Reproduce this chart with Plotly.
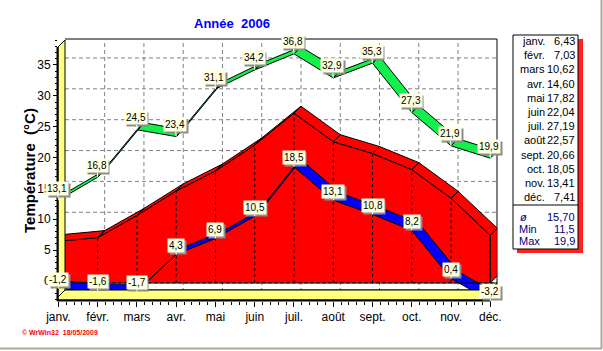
import plotly.graph_objects as go

# ---------------- data ----------------
months = ["janv.", "févr.", "mars", "avr.", "mai", "juin",
          "juil.", "août", "sept.", "oct.", "nov.", "déc."]
mean_temp = [6.43, 7.03, 10.62, 14.60, 17.82, 22.04, 27.19, 22.57, 20.66, 18.05, 13.41, 7.41]
max_temp = [13.1, 16.8, 24.5, 23.4, 31.1, 34.2, 36.8, 32.9, 35.3, 27.3, 21.9, 19.9]
min_temp = [-1.2, -1.6, -1.7, 4.3, 6.9, 10.5, 18.5, 13.1, 10.8, 8.2, 0.4, -3.2]
table_values = ["6,43", "7,03", "10,62", "14,60", "17,82", "22,04",
                "27,19", "22,57", "20,66", "18,05", "13,41", "7,41"]
stats_labels = ["ø", "Min", "Max"]
stats_values = ["15,70", "11,5", "19,9"]
y_ticks = [0, 5, 10, 15, 20, 25, 30, 35]

# ---------------- geometry ----------------
W, H = 603, 351
L, T, PW, PH = 58, 39, 439, 262
XR = [-0.01, 11.17]
YR = [-3.24, 39.21]
XS = PW / (XR[1] - XR[0])
YS = PH / (YR[1] - YR[0])
DX = 7 / XS          # 3D depth offset (right)
DY = 7 / YS          # 3D depth offset (up)
BASE = -0.3

def PX(p):
    return (p - L) / PW

def PY(p):
    return (T + PH - p) / PH

FONT = "Liberation Sans, Arial, sans-serif"
GREEN = "#12f04a"
RED = "#ff0000"
BLUE = "#0000ff"

xi = list(range(len(months)))
n = len(months)

def ribbon(vals):
    xs, ys = [], []
    for i in range(len(vals) - 1):
        xs += [i, i + 1, i + 1 + DX, i + DX, i, None]
        ys += [vals[i], vals[i + 1], vals[i + 1] + DY, vals[i] + DY, vals[i], None]
    return xs, ys

fig = go.Figure()

# red area: front face
fig.add_trace(go.Scatter(x=[0] + xi + [n - 1], y=[BASE] + mean_temp + [BASE],
                         mode="lines", fill="toself", fillcolor=RED,
                         line=dict(color="black", width=1), hoverinfo="skip"))
# red right side face
fig.add_trace(go.Scatter(x=[n - 1, n - 1, n - 1 + DX, n - 1 + DX, n - 1],
                         y=[BASE, mean_temp[-1], mean_temp[-1] + DY, BASE + DY, BASE],
                         mode="lines", fill="toself", fillcolor=RED,
                         line=dict(color="black", width=1), hoverinfo="skip"))
# red top face
rx, ry = ribbon(mean_temp)
fig.add_trace(go.Scatter(x=rx, y=ry, mode="lines", fill="toself", fillcolor=RED,
                         line=dict(color="black", width=1), hoverinfo="skip"))
# dotted verticals
dx_, dy_ = [], []
for i in range(1, n):
    dx_ += [i, i, None]
    dy_ += [BASE, mean_temp[i], None]
fig.add_trace(go.Scatter(x=dx_, y=dy_, mode="lines",
                         line=dict(color="black", width=1, dash="dot"), hoverinfo="skip"))
fig.add_trace(go.Scatter(x=[0, n - 1 + DX], y=[BASE, BASE], mode="lines",
                         line=dict(color="black", width=1, dash="dot"), hoverinfo="skip"))

# green ribbon
gx, gy = ribbon(max_temp)
fig.add_trace(go.Scatter(x=gx, y=gy, mode="lines", fill="toself", fillcolor=GREEN,
                         line=dict(color="black", width=1), hoverinfo="skip"))
# blue ribbon
bx, by = ribbon(min_temp)
fig.add_trace(go.Scatter(x=bx, y=by, mode="lines", fill="toself", fillcolor=BLUE,
                         line=dict(color="black", width=1), hoverinfo="skip"))

shapes = []
# back plane border
shapes.append(dict(type="line", xref="paper", yref="paper", x0=PX(65), x1=PX(497),
                   y0=PY(39), y1=PY(39), line=dict(color="black", width=1), layer="below"))
shapes.append(dict(type="line", xref="paper", yref="paper", x0=PX(497), x1=PX(497),
                   y0=PY(39), y1=PY(283), line=dict(color="black", width=1), layer="below"))
# back grid
for v in y_ticks[1:]:
    shapes.append(dict(type="line", xref="paper", yref="y", x0=PX(65), x1=PX(497),
                       y0=v + DY, y1=v + DY,
                       line=dict(color="#808080", width=1, dash="4px,3px"), layer="below"))
for i in range(1, n):
    shapes.append(dict(type="line", xref="x", yref="paper", x0=i + DX, x1=i + DX,
                       y0=PY(292), y1=PY(39),
                       line=dict(color="#808080", width=1, dash="4px,3px"), layer="below"))
# floor (white) + front slab (yellow)
shapes.append(dict(type="path", xref="paper", yref="paper",
                   path=f"M {PX(58)},{PY(290)} L {PX(65)},{PY(283)} L {PX(497)},{PY(283)} L {PX(490)},{PY(290)} Z",
                   fillcolor="rgba(255,255,255,0)", line=dict(color="black", width=1), layer="above"))
shapes.append(dict(type="path", xref="paper", yref="paper",
                   path=f"M {PX(58)},{PY(290)} L {PX(490)},{PY(290)} L {PX(497)},{PY(283)} L {PX(497)},{PY(293)} L {PX(490)},{PY(300)} L {PX(58)},{PY(300)} Z",
                   fillcolor="#ffff80", line=dict(color="black", width=1), layer="above"))
shapes.append(dict(type="line", xref="paper", yref="paper", x0=PX(490), x1=PX(490),
                   y0=PY(290), y1=PY(300), line=dict(color="black", width=1), layer="above"))
# left wall (yellow)
shapes.append(dict(type="path", xref="paper", yref="paper",
                   path=f"M {PX(58)},{PY(47)} L {PX(65)},{PY(40)} L {PX(65)},{PY(290)} L {PX(58)},{PY(297)} Z",
                   fillcolor="#ffff80", line=dict(color="black", width=1), layer="above"))
# axis lines
shapes.append(dict(type="line", xref="paper", yref="paper", x0=PX(57.5), x1=PX(57.5),
                   y0=PY(47), y1=PY(301), line=dict(color="black", width=2), layer="above"))
shapes.append(dict(type="line", xref="paper", yref="paper", x0=PX(57), x1=PX(491),
                   y0=PY(300.5), y1=PY(300.5), line=dict(color="black", width=2), layer="above"))

# right table
shapes.append(dict(type="rect", xref="paper", yref="paper", x0=PX(517), x1=PX(583),
                   y0=PY(253), y1=PY(39), fillcolor="#ff2020", line=dict(width=0), layer="above"))
shapes.append(dict(type="rect", xref="paper", yref="paper", x0=PX(513), x1=PX(578),
                   y0=PY(249), y1=PY(35), fillcolor="white",
                   line=dict(color="black", width=1), layer="above"))
shapes.append(dict(type="line", xref="paper", yref="paper", x0=PX(513), x1=PX(578),
                   y0=PY(205), y1=PY(205), line=dict(color="black", width=1), layer="above"))
# window frame
shapes.append(dict(type="line", xref="paper", yref="paper", x0=PX(601.5), x1=PX(601.5),
                   y0=PY(0), y1=PY(348.5), line=dict(color="#aca899", width=2), layer="above"))
shapes.append(dict(type="line", xref="paper", yref="paper", x0=PX(0), x1=PX(602),
                   y0=PY(348.5), y1=PY(348.5), line=dict(color="#aca899", width=2), layer="above"))

annotations = []
# title
annotations.append(dict(xref="paper", yref="paper", x=PX(232), y=PY(23.5),
                        text="<b>Année\u00a0\u00a02006</b>", showarrow=False,
                        font=dict(family=FONT, size=13, color="#0000ff"),
                        xanchor="center", yanchor="middle"))
# y title
annotations.append(dict(xref="paper", yref="paper", x=PX(29), y=PY(171),
                        text="<b>Température\u00a0\u00a0(°C)</b>", showarrow=False,
                        textangle=-90, font=dict(family=FONT, size=15, color="black"),
                        xanchor="center", yanchor="middle"))
# copyright
annotations.append(dict(xref="paper", yref="paper", x=PX(20), y=PY(332),
                        text="<b>© WrWin32\u00a0\u00a018/05/2009</b>", showarrow=False,
                        font=dict(family=FONT, size=7, color="#ff0000"),
                        xanchor="left", yanchor="middle"))

def fmt(v):
    return f"{v:.1f}".replace(".", ",")

def blank(txt):
    # same width as txt, but made of spacing characters (used for the box shadow)
    out = ""
    for c in txt:
        if c.isdigit():
            out += "\u2007"
        elif c == ",":
            out += "\u2008"
        else:
            out += "\u2008"
    return out

def add_label(i, v, ax, ay):
    txt = fmt(v)
    annotations.append(dict(x=i, y=v, xref="x", yref="y", text=blank(txt),
                            showarrow=True, arrowcolor="rgba(0,0,0,0)", arrowhead=0,
                            ax=ax + 2, ay=ay + 2, bgcolor="#8c8c8c", borderpad=1,
                            font=dict(family=FONT, size=10, color="#8c8c8c")))
    annotations.append(dict(x=i, y=v, xref="x", yref="y", text=txt,
                            showarrow=True, arrowcolor="white", arrowhead=0, arrowwidth=1,
                            ax=ax, ay=ay, bgcolor="#ffffe1", borderpad=1,
                            font=dict(family=FONT, size=10, color="black")))

for i, v in enumerate(max_temp):
    add_label(i, v, -1, -12)
for i, v in enumerate(min_temp):
    add_label(i, v, 0, -9)

# table text
for k, (m, val) in enumerate(zip(months, table_values)):
    yy = 41 + 14.2 * k
    annotations.append(dict(xref="paper", yref="paper", x=PX(546.5), y=PY(yy), text=m,
                            showarrow=False, xanchor="right", yanchor="middle",
                            font=dict(family=FONT, size=11, color="black")))
    annotations.append(dict(xref="paper", yref="paper", x=PX(577), y=PY(yy), text=val,
                            showarrow=False, xanchor="right", yanchor="middle",
                            font=dict(family=FONT, size=11, color="black")))
for k, (lab, val) in enumerate(zip(stats_labels, stats_values)):
    yy = [217, 229, 241][k]
    if k == 0:
        annotations.append(dict(xref="paper", yref="paper", x=PX(523), y=PY(yy),
                                text="<i>" + lab + "</i>", showarrow=False,
                                xanchor="center", yanchor="middle",
                                font=dict(family=FONT, size=11, color="#000080")))
    else:
        annotations.append(dict(xref="paper", yref="paper", x=PX(517), y=PY(yy), text=lab,
                                showarrow=False, xanchor="left", yanchor="middle",
                                font=dict(family=FONT, size=11, color="#000080")))
    annotations.append(dict(xref="paper", yref="paper", x=PX(577), y=PY(yy), text=val,
                            showarrow=False, xanchor="right", yanchor="middle",
                            font=dict(family=FONT, size=11, color="#000080")))

fig.update_layout(
    width=W, height=H,
    margin=dict(l=L, r=W - L - PW, t=T, b=H - T - PH, pad=0),
    paper_bgcolor="white", plot_bgcolor="white",
    showlegend=False,
    shapes=shapes, annotations=annotations,
    xaxis=dict(range=XR, tickmode="array", tickvals=xi, ticktext=months,
               ticks="outside", ticklen=5, tickcolor="black", tickwidth=1,
               showgrid=False, zeroline=False, showline=False, fixedrange=True,
               tickfont=dict(family=FONT, size=12, color="black"),
               minor=dict(dtick=0.2, tick0=0, ticks="outside", ticklen=3,
                          tickcolor="black", showgrid=False)),
    yaxis=dict(range=YR, tickmode="linear", tick0=0, dtick=5,
               ticks="outside", ticklen=4, tickcolor="black", tickwidth=1,
               showgrid=False, zeroline=False, showline=False, fixedrange=True,
               tickfont=dict(family=FONT, size=12, color="black"),
               minor=dict(dtick=1, tick0=0, ticks="outside", ticklen=2,
                          tickcolor="black", showgrid=False)),
)

fig.write_html("out.html", config={"displayModeBar": False})
